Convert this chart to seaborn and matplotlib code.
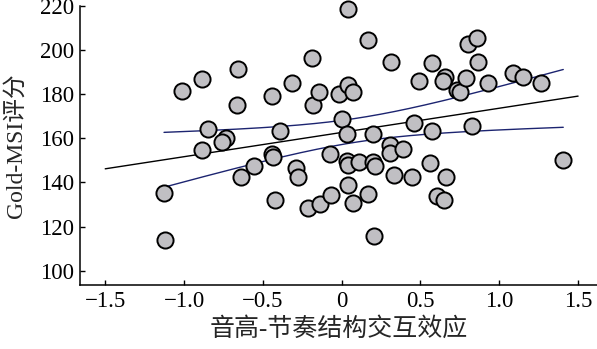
import numpy as np
import pandas as pd
import matplotlib
matplotlib.use("Agg")
import matplotlib.pyplot as plt
import seaborn as sns

# Pitch-rhythm structure interaction effect (x) vs. Gold-MSI score (y)
interaction = [
    -1.127, -1.120, -1.010, -0.888, -0.848, -0.888, -0.736, -0.757, -0.655, -0.661,
    -0.640, -0.556, -0.440, -0.393, -0.442, -0.435, -0.420, -0.315, -0.292, -0.277,
    -0.214, -0.188, -0.182, -0.144, -0.135, -0.076, -0.065, -0.019, 0.002, 0.034,
    0.042, 0.042, 0.074, 0.034, 0.040, 0.042, 0.072, 0.108, 0.167, 0.167,
    0.199, 0.199, 0.214, 0.205, 0.304, 0.304, 0.389, 0.315, 0.330, 0.446,
    0.461, 0.493, 0.562, 0.571, 0.571, 0.604, 0.647, 0.664, 0.655, 0.643,
    0.731, 0.752, 0.789, 0.803, 0.856, 0.865, 0.824, 0.928, 1.086, 1.152,
    1.266, 1.406,
]
gold_msi = [
    135.3, 114.1, 181.3, 186.7, 164.1, 154.9, 160.3, 158.4, 191.6, 175.0,
    142.4, 147.4, 179.1, 163.2, 153.0, 151.5, 132.2, 185.0, 146.7, 142.4,
    128.5, 196.5, 175.0, 180.8, 130.0, 152.7, 134.2, 180.3, 168.6, 162.1,
    184.0, 218.8, 180.8, 149.7, 147.7, 139.0, 130.8, 149.2, 204.5, 134.9,
    161.8, 149.2, 147.3, 115.8, 156.8, 153.3, 155.0, 194.6, 143.5, 142.3,
    167.0, 186.0, 148.8, 194.1, 163.2, 133.9, 132.2, 142.3, 187.9, 186.0,
    182.0, 180.8, 187.3, 202.6, 205.6, 194.6, 165.4, 185.0, 189.7, 187.9,
    185.0, 150.3,
]
x_ticks = [-1.5, -1.0, -0.5, 0, 0.5, 1.0, 1.5]
x_tick_labels = ["\u22121.5", "\u22121.0", "\u22120.5", "0", "0.5", "1.0", "1.5"]
y_ticks = [100, 120, 140, 160, 180, 200, 220]

df = pd.DataFrame({"x": interaction, "y": gold_msi})

sns.set_style("ticks")
serif_cjk = ["Liberation Serif", "Noto Sans CJK SC"]
plt.rcParams["font.family"] = serif_cjk

fig = plt.figure(figsize=(5.97, 3.49), dpi=100)
ax = fig.add_axes([0.134, 0.1834, 0.866, 0.7994])

# Fitted line spans -1.5..1.5
ax.set_xlim(-1.5, 1.5)
sns.regplot(data=df, x="x", y="y", ax=ax, scatter=False, ci=None,
            truncate=False, line_kws=dict(color="black", lw=1.0, zorder=3))

# 95% confidence band of the fitted mean over the data range
xv = df["x"].to_numpy()
yv = df["y"].to_numpy()
n = len(xv)
b1, b0 = np.polyfit(xv, yv, 1)
resid = yv - (b0 + b1 * xv)
s = np.sqrt(np.sum(resid ** 2) / (n - 2))
xg = np.linspace(xv.min(), xv.max(), 200)
se = s * np.sqrt(1.0 / n + (xg - xv.mean()) ** 2 / np.sum((xv - xv.mean()) ** 2))
t_crit = 1.994
fit = b0 + b1 * xg
band = pd.DataFrame({"x": np.concatenate([xg, xg]),
                     "y": np.concatenate([fit + t_crit * se, fit - t_crit * se]),
                     "side": ["upper"] * len(xg) + ["lower"] * len(xg)})
sns.lineplot(data=band, x="x", y="y", units="side", estimator=None, ax=ax,
             color="#1c2470", lw=1.0, zorder=3)

sns.scatterplot(data=df, x="x", y="y", ax=ax, s=135, color="#c0bfc3",
                edgecolor="black", linewidth=1.4, zorder=4, clip_on=False)

ax.set_xlim(-1.66, 1.62)
ax.set_ylim(93.5, 220)
ax.set_xticks(x_ticks)
ax.set_xticklabels(x_tick_labels)
ax.set_yticks(y_ticks)
ax.tick_params(direction="in", length=3.5, width=1.0, labelsize=16.5,
               color="black", labelcolor="black", pad=4)
for lab in ax.get_xticklabels() + ax.get_yticklabels():
    lab.set_family(serif_cjk)

for side in ("top", "right"):
    ax.spines[side].set_visible(False)
for side in ("left", "bottom"):
    ax.spines[side].set_linewidth(1.1)
    ax.spines[side].set_color("black")

ax.set_xlabel("音高-节奏结构交互效应", fontsize=18, family=serif_cjk, labelpad=4)
ax.set_ylabel("Gold-MSI评分", fontsize=17, family=serif_cjk, labelpad=10)

fig.savefig("out.png", dpi=100)
